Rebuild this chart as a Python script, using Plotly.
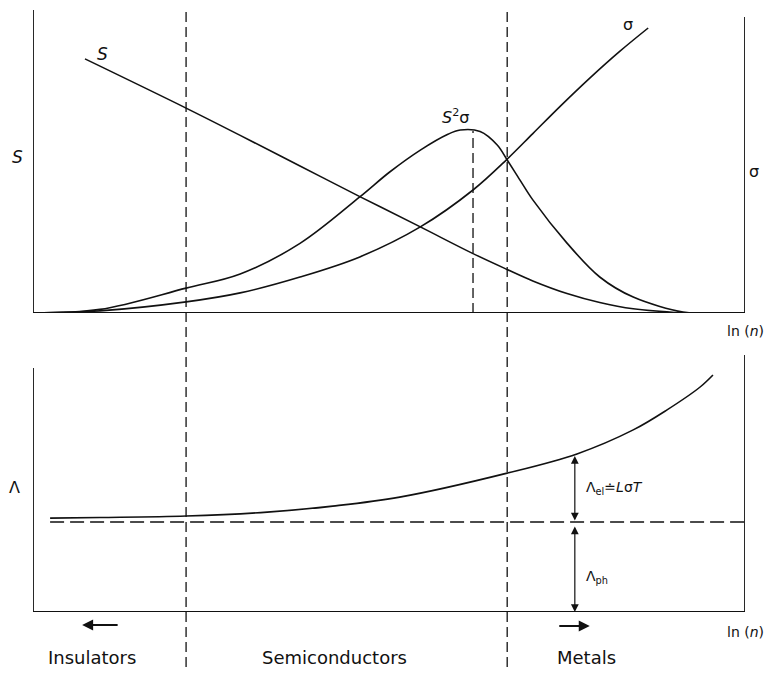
import numpy as np
import plotly.graph_objects as go

# ---------------- data (abstract units: x = ln(n), y = relative magnitude) ----------------
ln_n_S = [0.73, 2.15, 2.91, 3.75, 4.59, 5.44, 6.18, 6.66, 7.02, 7.50, 7.96, 8.43, 9.13]
S_vals = [8.47, 6.83, 5.92, 4.90, 3.88, 2.87, 1.98, 1.45, 1.07, 0.65, 0.35, 0.14, 0.00]

ln_n_pf = [0.01, 0.94, 2.15, 2.91, 3.75, 4.59, 5.01, 5.44, 5.82, 6.00, 6.28, 6.52, 6.66, 6.84, 7.02, 7.50, 7.96, 8.43, 9.13, 9.37]
pf_vals = [0.00, 0.12, 0.83, 1.30, 2.32, 3.87, 4.70, 5.43, 5.95, 6.10, 6.05, 5.60, 5.10, 4.43, 3.77, 2.33, 1.20, 0.53, 0.03, 0.00]

ln_n_sig = [0.01, 0.94, 2.15, 2.91, 3.75, 4.59, 5.44, 6.18, 6.66, 7.02, 7.40, 7.82, 8.24, 8.64]
sig_vals = [0.00, 0.07, 0.37, 0.67, 1.20, 1.87, 2.87, 4.10, 5.13, 5.98, 6.88, 7.83, 8.72, 9.50]

ln_n_k = [0.24, 0.94, 2.15, 3.29, 4.21, 5.15, 6.66, 7.64, 8.43, 8.90, 9.37, 9.55]
k_vals = [3.13, 3.15, 3.20, 3.33, 3.53, 3.83, 4.63, 5.27, 6.07, 6.73, 7.50, 7.90]

k_phonon = 3.0            # lattice contribution (dashed line)
k_phonon_x = [0.24, 10.0]
boundaries = [2.15, 6.66]  # insulator/semiconductor and semiconductor/metal
peak_x = 6.18              # optimum of S^2 sigma
arrow_x = 7.61             # position of the Lambda_el / Lambda_ph arrows

region_labels = ["Insulators", "Semiconductors", "Metals"]
region_x = [0.83, 4.23, 7.78]

# ---------------- layout helpers (page body has an 8 px margin) ----------------
OFF = 8
W, H = 776 - OFF, 675 - 2 * OFF
def px(x): return (x - OFF) / W
def py(y): return 1 - (y - OFF) / H

X_DOM = [px(33), px(745)]
Y1_DOM = [py(313), py(10)]
Y1_TOP = (313 - 10) / 30.0
Y2_DOM = [py(612), py(355)]
Y2_TOP = (612 - 355) / 30.0

BLACK = "#111111"
FONT = "DejaVu Sans"
LW = 1.6

fig = go.Figure()

def line(x, y, xa="x", ya="y", dash="solid", width=LW):
    fig.add_trace(go.Scatter(x=x, y=y, mode="lines", xaxis=xa, yaxis=ya,
                             line=dict(color=BLACK, width=width, dash=dash, shape="spline", smoothing=1.0),
                             hoverinfo="skip", showlegend=False))

line(ln_n_S, S_vals)
line(ln_n_pf, pf_vals)
line(ln_n_sig, sig_vals)
line(ln_n_k, k_vals, "x2", "y2")

# peak marker (short dashed vertical)
pk = float(np.interp(peak_x, ln_n_pf, pf_vals))
fig.add_trace(go.Scatter(x=[peak_x, peak_x], y=[0, pk], mode="lines",
                         line=dict(color=BLACK, width=1.3, dash="10px,5px"),
                         hoverinfo="skip", showlegend=False))
# phonon dashed line
fig.add_trace(go.Scatter(x=k_phonon_x, y=[k_phonon, k_phonon], mode="lines", xaxis="x2", yaxis="y2",
                         line=dict(color=BLACK, width=1.5, dash="14px,6px"),
                         hoverinfo="skip", showlegend=False))

shapes = []
# axes frames
for (x0, y0, x1, y1, xr, yr) in [
    (0, 0, 0, Y1_TOP, "x", "y"), (0, 0, 10, 0, "x", "y"), (10, 0, 10, (313 - 17) / 30.0, "x", "y"),
    (0, 0, 0, (612 - 368) / 30.0, "x2", "y2"), (0, 0, 10, 0, "x2", "y2"), (10, 0, 10, Y2_TOP, "x2", "y2"),
]:
    shapes.append(dict(type="line", x0=x0, y0=y0, x1=x1, y1=y1, xref=xr, yref=yr,
                       line=dict(color=BLACK, width=1.8)))
# region boundaries
for b in boundaries:
    shapes.append(dict(type="line", x0=b, x1=b, y0=0, y1=py(10), xref="x", yref="paper",
                       line=dict(color=BLACK, width=1.3, dash="10px,5px")))
fig.update_layout(shapes=shapes)

ann = []
def text(x, y, s, xref="paper", yref="paper", size=15, xanchor="center"):
    ann.append(dict(x=x, y=y, xref=xref, yref=yref, text=s, showarrow=False,
                    xanchor=xanchor, yanchor="middle",
                    font=dict(family=FONT, size=size, color=BLACK)))

text(px(17), py(157), "<i>S</i>", size=17)
text(px(754), py(172), "σ", size=16)
text(0.97, 8.65, "<i>S</i>", "x", "y", size=17)
text(5.93, 6.55, "<i>S</i><sup>2</sup>σ", "x", "y", size=16)
text(8.36, 9.6, "σ", "x", "y", size=16)
text(px(766), py(331), "ln (<i>n</i>)", size=14, xanchor="right")
text(px(766), py(632), "ln (<i>n</i>)", size=14, xanchor="right")
text(px(14), py(487), "Λ", size=16)
text(px(584), py(488), "Λ<sub>el</sub>≐<i>L</i>σ<i>T</i>", size=14, xanchor="left")
text(px(584), py(577), "Λ<sub>ph</sub>", size=14, xanchor="left")
for lab, xv in zip(region_labels, region_x):
    text(xv, py(657), lab, "x2", "paper", size=18)

# double-headed arrows
k_at = float(np.interp(arrow_x, ln_n_k, k_vals))
for (ya, yb) in [(k_at, k_phonon + 0.05), (k_phonon - 0.1, 0.0)]:
    ann.append(dict(x=arrow_x, y=yb, ax=arrow_x, ay=ya, xref="x2", yref="y2", axref="x2", ayref="y2",
                    showarrow=True, arrowhead=2, startarrowhead=2, arrowside="end+start",
                    arrowsize=1.3, startarrowsize=1.3, arrowwidth=1.2, arrowcolor=BLACK, text=""))
# direction arrows below the axis
ann.append(dict(x=0.69, y=py(625), xref="x2", yref="paper", ax=37, ay=0, axref="pixel", ayref="pixel",
                showarrow=True, arrowhead=2, arrowsize=1.1, arrowwidth=2, arrowcolor=BLACK, text=""))
ann.append(dict(x=7.82, y=py(626), xref="x2", yref="paper", ax=-32, ay=0, axref="pixel", ayref="pixel",
                showarrow=True, arrowhead=2, arrowsize=1.1, arrowwidth=2, arrowcolor=BLACK, text=""))
fig.update_layout(annotations=ann)

hidden = dict(visible=False, showgrid=False, zeroline=False, fixedrange=True)
fig.update_layout(
    width=W, height=H, margin=dict(l=0, r=0, t=0, b=0),
    paper_bgcolor="white", plot_bgcolor="white", showlegend=False,
    xaxis=dict(domain=X_DOM, range=[0, 10], anchor="y", **hidden),
    yaxis=dict(domain=Y1_DOM, range=[0, Y1_TOP], anchor="x", **hidden),
    xaxis2=dict(domain=X_DOM, range=[0, 10], anchor="y2", **hidden),
    yaxis2=dict(domain=Y2_DOM, range=[0, Y2_TOP], anchor="x2", **hidden),
)

fig.write_html("out.html")
